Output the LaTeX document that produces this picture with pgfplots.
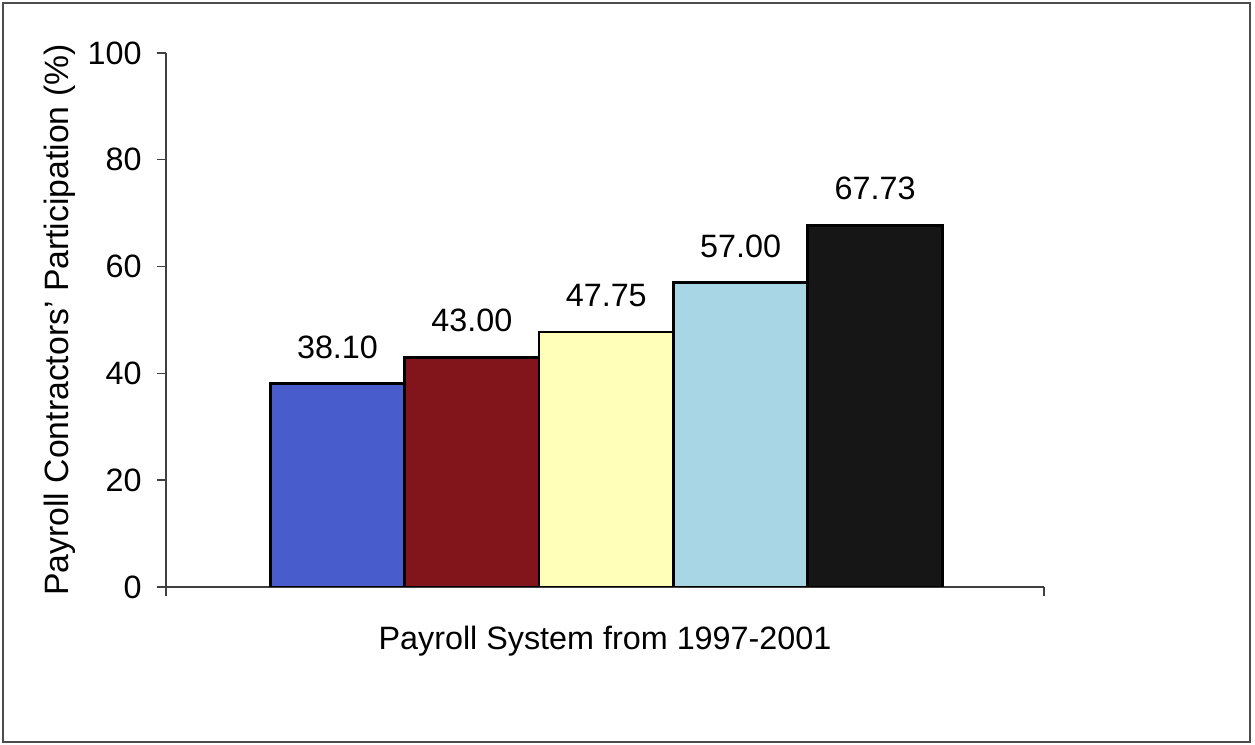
\documentclass[border=0pt]{standalone}
\usepackage{pgfplots}
\pgfplotsset{compat=1.18}
\usepackage{fontspec}
\setmainfont{Liberation Sans}
\definecolor{barblue}{RGB}{72,92,204}
\definecolor{barred}{RGB}{130,20,28}
\definecolor{baryellow}{RGB}{255,255,185}
\definecolor{barcyan}{RGB}{168,214,228}
\definecolor{barblack}{RGB}{22,22,22}
\begin{document}
\begin{tikzpicture}
\path[use as bounding box] (0,0) rectangle (125.5mm,74.5mm);
\draw[line width=0.4pt,black!70] (0.3mm,0.3mm) rectangle (125.0mm,74.2mm);
\begin{axis}[
  at={(16.6mm,15.8mm)}, anchor=south west,
  scale only axis, width=87.8mm, height=53.4mm,
  xmin=-1.276, xmax=5.257, ymin=0, ymax=100,
  axis x line=bottom, axis y line=left,
  axis line style={-, black!75, line width=0.4pt},
  ytick={0,20,40,60,80,100},
  xtick={-1.276,5.257}, xticklabels={},
  tick align=outside, major tick length=0.9mm,
  tick style={black!75, line width=0.4pt},
  ybar, bar width=1, bar shift=0pt,
  /pgf/number format/assume math mode=true,
  ticklabel style={font=\fontsize{9.2}{11}\selectfont},
  yticklabel style={xshift=-0.3mm},
  ylabel={Payroll Contractors' Participation (\%)},
  ylabel style={font=\fontsize{9.6}{11}\selectfont, at={(axis description cs:-0.1207,0.5)}, anchor=center},
  xlabel={Payroll System from 1997-2001},
  xlabel style={font=\fontsize{9.2}{11}\selectfont, at={(axis description cs:0.5,0)}, yshift=-2.7mm, anchor=north},
  nodes near coords={\pgfmathprintnumber[fixed,fixed zerofill,precision=2]{\pgfplotspointmeta}},
  nodes near coords style={font=\fontsize{9.2}{11}\selectfont, text=black, yshift=1.2mm},
]
\addplot[fill=barblue, draw=black, line width=0.8pt] coordinates {(0,38.10)};
\addplot[fill=barred, draw=black, line width=0.8pt] coordinates {(1,43.00)};
\addplot[fill=baryellow, draw=black, line width=0.8pt] coordinates {(2,47.75)};
\addplot[fill=barcyan, draw=black, line width=0.8pt] coordinates {(3,57.00)};
\addplot[fill=barblack, draw=black, line width=0.8pt] coordinates {(4,67.73)};
\end{axis}
\end{tikzpicture}
\end{document}
